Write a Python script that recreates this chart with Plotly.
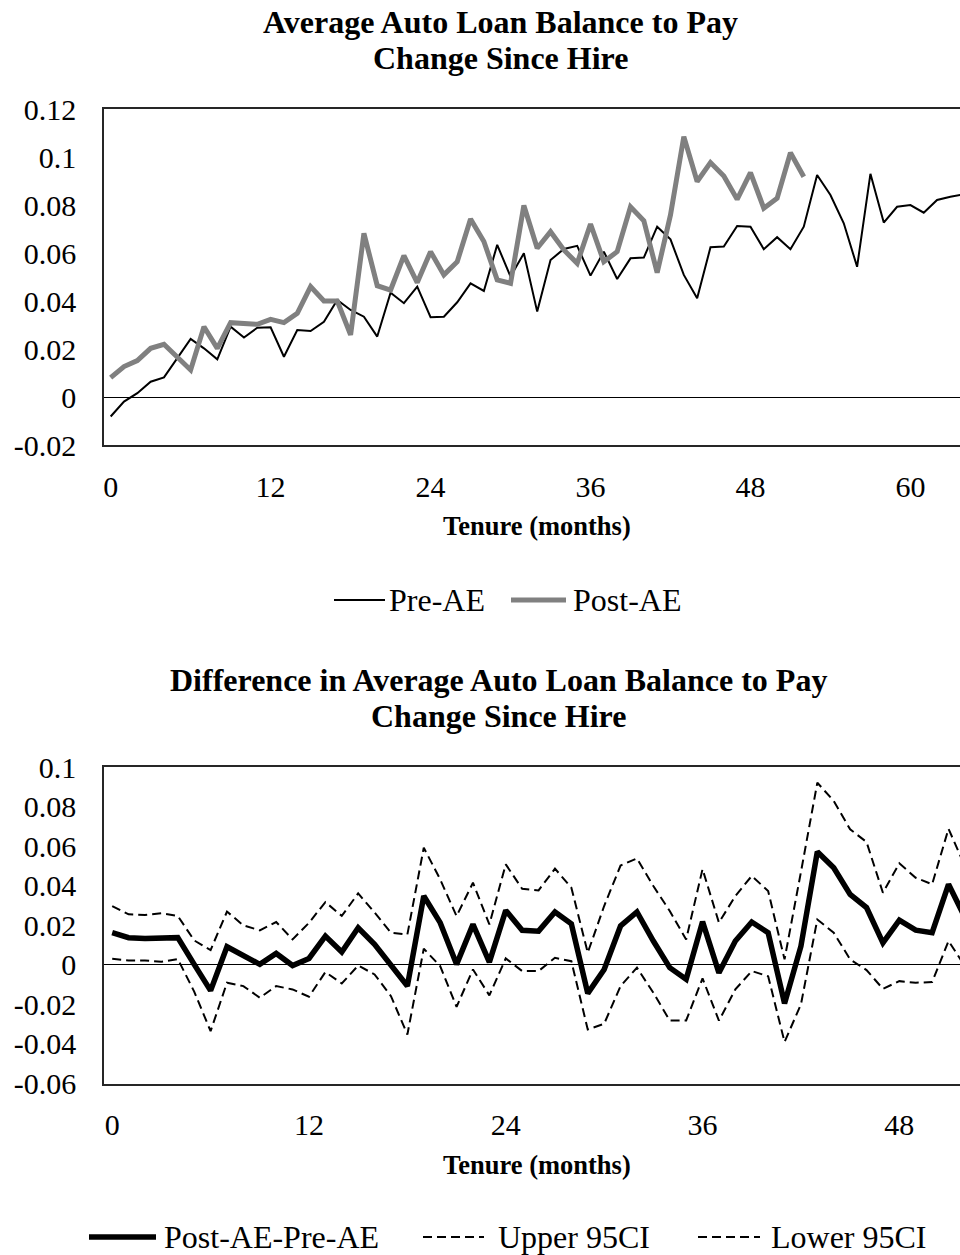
import plotly.graph_objects as go

# ---- data -------------------------------------------------------------
pre_ae = [
    -0.0080, -0.0018, 0.0017, 0.0065, 0.0083, 0.0163, 0.0243, 0.0204, 0.0158, 0.0294,
    0.0249, 0.0290, 0.0292, 0.0169, 0.0280, 0.0276, 0.0315, 0.0406, 0.0364, 0.0336,
    0.0253, 0.0436, 0.0392, 0.0461, 0.0334, 0.0336, 0.0396, 0.0475, 0.0443, 0.0635,
    0.0503, 0.0600, 0.0357, 0.0572, 0.0618, 0.0631, 0.0507, 0.0607, 0.0493, 0.0579,
    0.0582, 0.0711, 0.0658, 0.0510, 0.0413, 0.0625, 0.0628, 0.0714, 0.0711, 0.0617,
    0.0667, 0.0617, 0.0711, 0.0926, 0.0843, 0.0725, 0.0544, 0.0931, 0.0728, 0.0794,
    0.0801, 0.0769, 0.0822, 0.0836, 0.0845,
]
post_ae = [
    0.0082, 0.0128, 0.0153, 0.0204, 0.0221, 0.0169, 0.0114, 0.0294, 0.0204, 0.0311,
    0.0306, 0.0304, 0.0325, 0.0311, 0.0350, 0.0461, 0.0401, 0.0401, 0.0260, 0.0683,
    0.0465, 0.0447, 0.0590, 0.0478, 0.0607, 0.0510, 0.0565, 0.0743, 0.0649, 0.0489,
    0.0475, 0.0799, 0.0621, 0.0690, 0.0614, 0.0558, 0.0722, 0.0565, 0.0607, 0.0794,
    0.0736, 0.0519, 0.0760, 0.1086, 0.0899, 0.0978, 0.0922, 0.0825, 0.0936, 0.0788,
    0.0829, 0.1019, 0.0919,
]
diff = [
    0.0163, 0.0138, 0.0134, 0.0136, 0.0138, 0.0003, -0.0130, 0.0092, 0.0048, 0.0003,
    0.0058, -0.0003, 0.0033, 0.0146, 0.0065, 0.0188, 0.0104, 0.0003, -0.0107, 0.0349,
    0.0214, 0.0003, 0.0205, 0.0014, 0.0276, 0.0175, 0.0171, 0.0268, 0.0208, -0.0144,
    -0.0023, 0.0197, 0.0268, 0.0121, -0.0014, -0.0073, 0.0219, -0.0040, 0.0121, 0.0217,
    0.0163, -0.0195, 0.0095, 0.0573, 0.0492, 0.0357, 0.0290, 0.0112, 0.0227, 0.0176,
    0.0163, 0.0408, 0.0240,
]
upper_ci = [
    0.0298, 0.0256, 0.0253, 0.0261, 0.0248, 0.0124, 0.0075, 0.0270, 0.0200, 0.0175,
    0.0217, 0.0129, 0.0213, 0.0318, 0.0248, 0.0362, 0.0265, 0.0163, 0.0154, 0.0593,
    0.0433, 0.0247, 0.0416, 0.0205, 0.0509, 0.0385, 0.0377, 0.0487, 0.0391, 0.0062,
    0.0298, 0.0503, 0.0539, 0.0399, 0.0273, 0.0129, 0.0485, 0.0214, 0.0349, 0.0450,
    0.0374, 0.0028, 0.0470, 0.0922, 0.0830, 0.0686, 0.0622, 0.0365, 0.0514, 0.0441,
    0.0408, 0.0689, 0.0500,
]
lower_ci = [
    0.0031, 0.0023, 0.0023, 0.0016, 0.0030, -0.0135, -0.0335, -0.0090, -0.0107, -0.0166,
    -0.0107, -0.0124, -0.0161, -0.0036, -0.0094, -0.0003, -0.0048, -0.0158, -0.0352, 0.0082,
    -0.0006, -0.0212, -0.0023, -0.0154, 0.0033, -0.0031, -0.0031, 0.0036, 0.0019, -0.0327,
    -0.0298, -0.0107, -0.0014, -0.0141, -0.0281, -0.0281, -0.0068, -0.0282, -0.0124, -0.0031,
    -0.0057, -0.0390, -0.0200, 0.0230, 0.0163, 0.0028, -0.0026, -0.0121, -0.0082, -0.0090,
    -0.0087, 0.0121, -0.0006,
]

month_ticks = [0, 12, 24, 36, 48, 60]
top_y_ticks = [-0.02, 0, 0.02, 0.04, 0.06, 0.08, 0.1, 0.12]
top_y_text = ["-0.02", "0", "0.02", "0.04", "0.06", "0.08", "0.1", "0.12"]
bot_y_ticks = [-0.06, -0.04, -0.02, 0, 0.02, 0.04, 0.06, 0.08, 0.1]
bot_y_text = ["-0.06", "-0.04", "-0.02", "0", "0.02", "0.04", "0.06", "0.08", "0.1"]

# ---- layout helpers -----------------------------------------------------
W, H = 960, 1255
SERIF = "Liberation Serif"
DASH = "9px,5px"


def px(x):
    return x / W


def py(y):
    return 1 - y / H


fig = go.Figure()

fig.add_trace(go.Scatter(x=list(range(len(pre_ae))), y=pre_ae, mode="lines",
                         line=dict(color="black", width=2), xaxis="x", yaxis="y",
                         showlegend=False))
fig.add_trace(go.Scatter(x=list(range(len(post_ae))), y=post_ae, mode="lines",
                         line=dict(color="#808080", width=5), xaxis="x", yaxis="y",
                         showlegend=False))

fig.add_trace(go.Scatter(x=list(range(len(upper_ci))), y=upper_ci, mode="lines",
                         line=dict(color="black", width=2, dash=DASH),
                         xaxis="x2", yaxis="y2", showlegend=False))
fig.add_trace(go.Scatter(x=list(range(len(lower_ci))), y=lower_ci, mode="lines",
                         line=dict(color="black", width=2, dash=DASH),
                         xaxis="x2", yaxis="y2", showlegend=False))
fig.add_trace(go.Scatter(x=list(range(len(diff))), y=diff, mode="lines",
                         line=dict(color="black", width=5.5),
                         xaxis="x2", yaxis="y2", showlegend=False))

tick_font = dict(family=SERIF, size=30, color="black")
frame = dict(showline=True, linecolor="#262626", linewidth=1.5, showgrid=False,
             ticks="", tickfont=tick_font, automargin=False)

fig.update_layout(
    width=W, height=H,
    margin=dict(l=0, r=0, t=0, b=0),
    paper_bgcolor="white", plot_bgcolor="white",
    xaxis=dict(domain=[px(104), 1], range=[-0.5, 63.72], tickvals=month_ticks,
               mirror=True, zeroline=False, anchor="y", ticklabelstandoff=14, **frame),
    yaxis=dict(domain=[py(445.3), py(109.3)], range=[-0.02, 0.12],
               tickvals=top_y_ticks, ticktext=top_y_text, anchor="x",
               zeroline=True, zerolinecolor="black", zerolinewidth=1,
               ticklabelstandoff=20, **frame),
    xaxis2=dict(domain=[px(104), 1], range=[-0.5, 51.7], tickvals=month_ticks[:5],
                mirror=True, zeroline=False, anchor="y2", ticklabelstandoff=14, **frame),
    yaxis2=dict(domain=[py(1083.5), py(767.3)], range=[-0.06, 0.1],
                tickvals=bot_y_ticks, ticktext=bot_y_text, anchor="x2",
                zeroline=True, zerolinecolor="black", zerolinewidth=1,
                ticklabelstandoff=20, **frame),
)

title_font = dict(family=SERIF, size=32, color="black")
axis_title_font = dict(family=SERIF, size=26.5, color="black")
legend_font = dict(family=SERIF, size=32, color="black")

texts = [
    ("<b>Average Auto Loan Balance to Pay</b>", 500, 22, title_font, "center"),
    ("<b>Change Since Hire</b>", 500, 58, title_font, "center"),
    ("<b>Tenure (months)</b>", 537, 526, axis_title_font, "center"),
    ("Pre-AE", 387, 600, legend_font, "left"),
    ("Post-AE", 571, 600, legend_font, "left"),
    ("<b>Difference in Average Auto Loan Balance to Pay</b>", 498, 680, title_font, "center"),
    ("<b>Change Since Hire</b>", 498, 716, title_font, "center"),
    ("<b>Tenure (months)</b>", 537, 1165, axis_title_font, "center"),
    ("Post-AE-Pre-AE", 162, 1237, legend_font, "left"),
    ("Upper 95CI", 496, 1237, legend_font, "left"),
    ("Lower 95CI", 769, 1237, legend_font, "left"),
]
for txt, x, y, font, anchor in texts:
    fig.add_annotation(text=txt, x=px(x), y=py(y), xref="paper", yref="paper",
                       xanchor=anchor, yanchor="middle", showarrow=False, font=font)

# legend keys
keys = [
    (334, 385, 600, dict(color="black", width=2)),
    (511, 566, 600, dict(color="#808080", width=5)),
    (89, 156, 1237, dict(color="black", width=5.5)),
    (423, 484, 1237, dict(color="black", width=2, dash=DASH)),
    (698, 760, 1237, dict(color="black", width=2, dash=DASH)),
]
for x0, x1, y, ln in keys:
    fig.add_shape(type="line", xref="paper", yref="paper",
                  x0=px(x0), x1=px(x1), y0=py(y), y1=py(y), line=ln)

fig.write_html("out.html")
